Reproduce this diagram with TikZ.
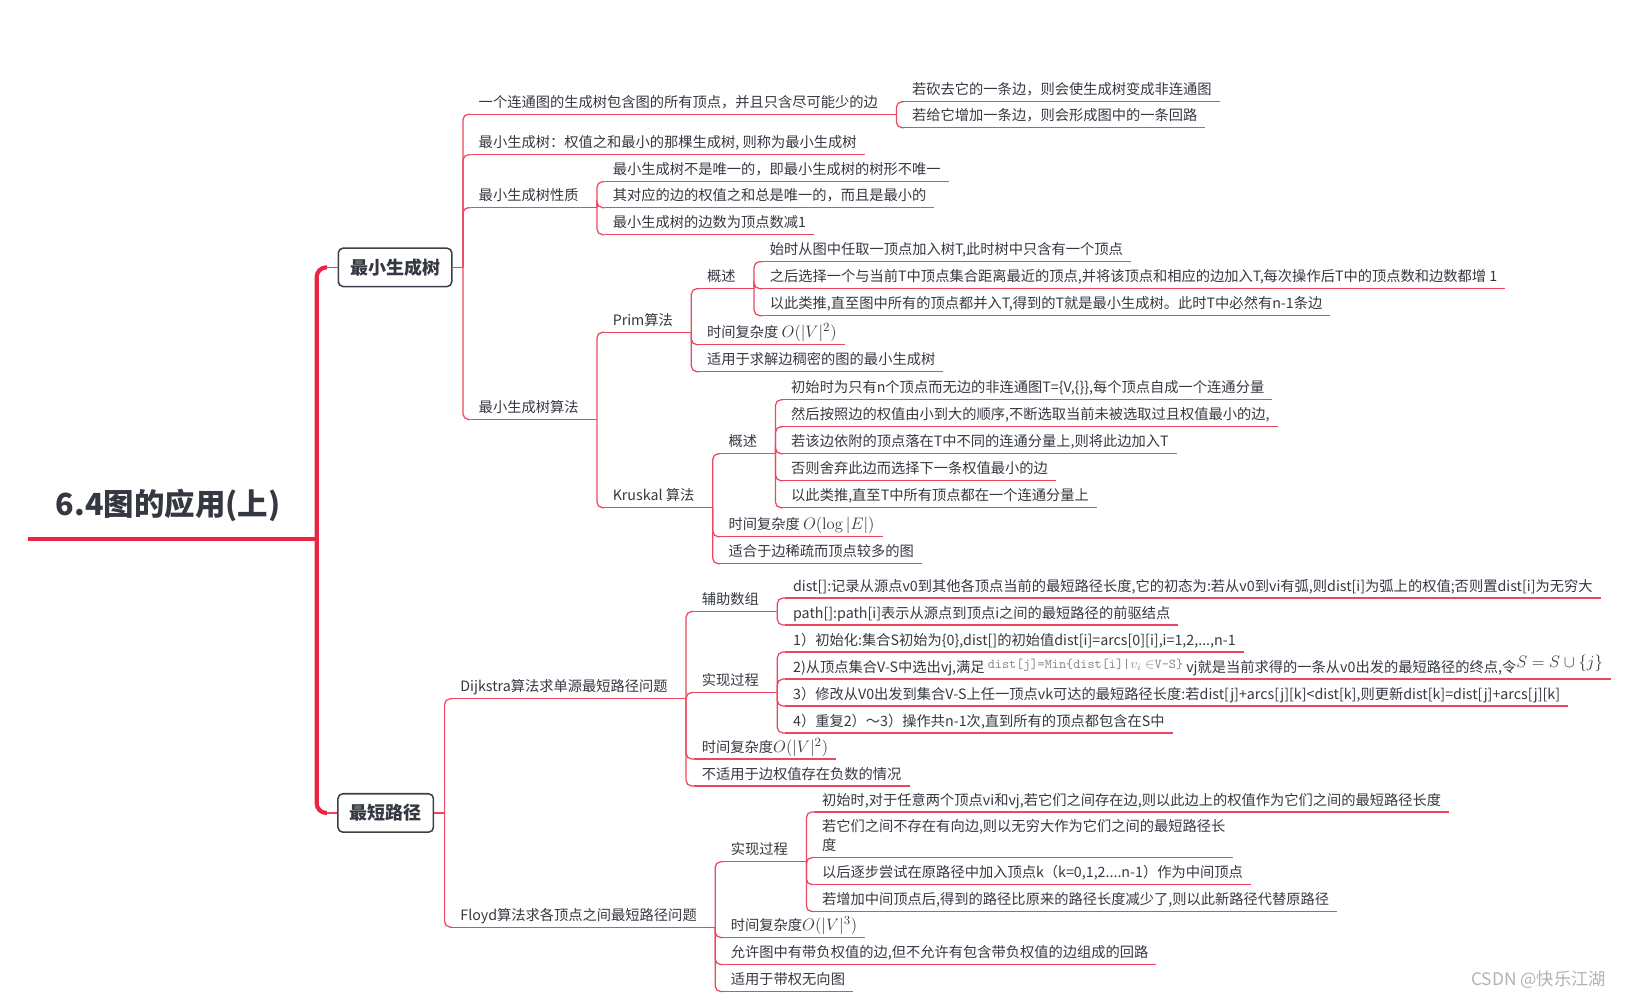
\documentclass[tikz,border=0pt]{standalone}
\usepackage[no-math]{fontspec}
\usepackage{amsmath}
\usepackage{amssymb}
\setmainfont{Noto Sans CJK SC}

\definecolor{txtc}{RGB}{52,56,64}
\definecolor{linec}{RGB}{236,70,96}
\definecolor{trunkc}{RGB}{232,38,66}
\definecolor{boxc}{RGB}{58,62,72}
\definecolor{markc}{RGB}{178,178,178}

\newcommand{\lblfont}{\fontsize{10.3}{12.4}\selectfont}
\newcommand{\topicfont}{\bfseries\fontsize{13}{15}\selectfont}
\newcommand{\rootfont}{\bfseries\fontsize{22}{26}\selectfont}
\newcommand{\wmfont}{\fontsize{12.5}{15}\selectfont}
\newcommand{\cplx}[1]{{\fontsize{12.5}{12.5}\selectfont$#1$}}

\tikzset{
  ln/.style={draw=linec, line width=0.9pt, rounded corners=4pt},
  trunk/.style={draw=trunkc, line width=3pt, rounded corners=7pt},
  ul/.style={draw=linec, line width=0.9pt},
  lbl/.style={anchor=south west, xshift=5.6pt, inner xsep=5.6pt, inner ysep=2.6pt,
    text height=7.6pt, text depth=2.2pt, text=txtc, font=\lblfont,
    append after command={(\tikzlastnode.south west) edge[ul] (\tikzlastnode.south east)}},
  topic/.style={draw=boxc, line width=1.1pt, rounded corners=3.5pt, fill=white,
    minimum height=27.75pt, inner xsep=8.5pt, text=txtc, font=\topicfont},
  rootnode/.style={anchor=south, minimum width=202.5pt, inner xsep=0pt, inner ysep=17pt,
    text depth=0pt, text=txtc, font=\rootfont},
  wmark/.style={text=markc, font=\wmfont, inner sep=0pt}
}

\begin{document}
\begin{tikzpicture}[x=0.75pt,y=0.75pt,yscale=-1,xscale=1]
\useasboundingbox (0,0) rectangle (1568,963);

% Root Node
\node[rootnode] (root) at (162,519) {6.4图的应用(上)};
\coordinate (hub) at (305,519);
\draw[trunk] (root.south west) -- (hub);

% Topic Nodes
\node[topic] (mst) at (380.5,257.5) {最小生成树};
\node[topic] (sp) at (371.5,783) {最短路径};
%Straight Lines
\draw[trunk] (hub) |- ([xshift=-7.5pt]mst.west);
\draw[trunk] (hub) |- ([xshift=-7.5pt]sp.west);
\draw[ln] ([xshift=-7.5pt]mst.west) -- (mst.west);
\draw[ln] ([xshift=-7.5pt]sp.west) -- (sp.west);

%%%%%%%%%% 最小生成树
\coordinate (mstb) at ([xshift=7.5pt]mst.east);
\draw[ln] (mst.east) -- (mstb);
% Text Node
\node[lbl] (def) at (mstb |- 0,110) {一个连通图的生成树包含图的所有顶点，并且只含尽可能少的边};
\node[lbl] (min) at (mstb |- 0,149) {最小生成树：权值之和最小的那棵生成树, 则称为最小生成树};
\node[lbl] (prop) at (mstb |- 0,200) {最小生成树性质};
\node[lbl] (alg) at (mstb |- 0,404) {最小生成树算法};
%Straight Lines
\draw[ln] (mstb) |- (def.south west);
\draw[ln] (mstb) |- (min.south west);
\draw[ln] (mstb) |- (prop.south west);
\draw[ln] (mstb) |- (alg.south west);

% definition
\coordinate (defb) at ([xshift=7.5pt]def.south east);
\draw[ln] (def.south east) -- (defb);
\node[lbl] (cut) at (defb |- 0,98) {若砍去它的一条边，则会使生成树变成非连通图};
\node[lbl] (add) at (defb |- 0,123) {若给它增加一条边，则会形成图中的一条回路};
\draw[ln] (defb) |- (cut.south west);
\draw[ln] (defb) |- (add.south west);

% properties
\coordinate (propb) at ([xshift=7.5pt]prop.south east);
\draw[ln] (prop.south east) -- (propb);
\node[lbl] (uniq) at (propb |- 0,175) {最小生成树不是唯一的，即最小生成树的树形不唯一};
\node[lbl] (wsum) at (propb |- 0,200) {其对应的边的权值之和总是唯一的，而且是最小的};
\node[lbl] (ecnt) at (propb |- 0,226) {最小生成树的边数为顶点数减1};
\draw[ln] (propb) |- (uniq.south west);
\draw[ln] (propb) |- (wsum.south west);
\draw[ln] (propb) |- (ecnt.south west);

% algorithms
\coordinate (algb) at ([xshift=7.5pt]alg.south east);
\draw[ln] (alg.south east) -- (algb);
\node[lbl] (prim) at (algb |- 0,320) {Prim算法};
\node[lbl] (krus) at (algb |- 0,489) {Kruskal 算法};
\draw[ln] (algb) |- (prim.south west);
\draw[ln] (algb) |- (krus.south west);

% Prim
\coordinate (primb) at ([xshift=7.5pt]prim.south east);
\draw[ln] (prim.south east) -- (primb);
\node[lbl] (pov) at (primb |- 0,278) {概述};
\node[lbl] (ptime) at (primb |- 0,332) {时间复杂度 \cplx{O(|V|^2)}};
\node[lbl] (puse) at (primb |- 0,358) {适用于求解边稠密的图的最小生成树};
\draw[ln] (primb) |- (pov.south west);
\draw[ln] (primb) |- (ptime.south west);
\draw[ln] (primb) |- (puse.south west);

\coordinate (povb) at ([xshift=7.5pt]pov.south east);
\draw[ln] (pov.south east) -- (povb);
\node[lbl] (p1) at (povb |- 0,252) {始时从图中任取一顶点加入树T,此时树中只含有一个顶点};
\node[lbl] (p2) at (povb |- 0,278) {之后选择一个与当前T中顶点集合距离最近的顶点,并将该顶点和相应的边加入T,每次操作后T中的顶点数和边数都增 1};
\node[lbl] (p3) at (povb |- 0,304) {以此类推,直至图中所有的顶点都并入T,得到的T就是最小生成树。此时T中必然有n-1条边};
\draw[ln] (povb) |- (p1.south west);
\draw[ln] (povb) |- (p2.south west);
\draw[ln] (povb) |- (p3.south west);

% Kruskal
\coordinate (krusb) at ([xshift=7.5pt]krus.south east);
\draw[ln] (krus.south east) -- (krusb);
\node[lbl] (kov) at (krusb |- 0,437) {概述};
\node[lbl] (ktime) at (krusb |- 0,517) {时间复杂度 \cplx{O(\log|E|)}};
\node[lbl] (kuse) at (krusb |- 0,543) {适合于边稀疏而顶点较多的图};
\draw[ln] (krusb) |- (kov.south west);
\draw[ln] (krusb) |- (ktime.south west);
\draw[ln] (krusb) |- (kuse.south west);

\coordinate (kovb) at ([xshift=7.5pt]kov.south east);
\draw[ln] (kov.south east) -- (kovb);
\node[lbl] (k1) at (kovb |- 0,385) {初始时为只有n个顶点而无边的非连通图T=\{V,\{\}\},每个顶点自成一个连通分量};
\node[lbl] (k2) at (kovb |- 0,411) {然后按照边的权值由小到大的顺序,不断选取当前未被选取过且权值最小的边,};
\node[lbl] (k3) at (kovb |- 0,437) {若该边依附的顶点落在T中不同的连通分量上,则将此边加入T};
\node[lbl] (k4) at (kovb |- 0,463) {否则舍弃此边而选择下一条权值最小的边};
\node[lbl] (k5) at (kovb |- 0,489) {以此类推,直至T中所有顶点都在一个连通分量上};
\draw[ln] (kovb) |- (k1.south west);
\draw[ln] (kovb) |- (k2.south west);
\draw[ln] (kovb) |- (k3.south west);
\draw[ln] (kovb) |- (k4.south west);
\draw[ln] (kovb) |- (k5.south west);

%%%%%%%%%% 最短路径
\coordinate (spb) at ([xshift=7.5pt]sp.east);
\draw[ln] (sp.east) -- (spb);
\node[lbl] (dij) at (spb |- 0,673) {Dijkstra算法求单源最短路径问题};
\node[lbl] (floyd) at (spb |- 0,893) {Floyd算法求各顶点之间最短路径问题};
\draw[ln] (spb) |- (dij.south west);
\draw[ln] (spb) |- (floyd.south west);

% Dijkstra
\coordinate (dijb) at ([xshift=7.5pt]dij.south east);
\draw[ln] (dij.south east) -- (dijb);
\node[lbl] (darr) at (dijb |- 0,589) {辅助数组};
\node[lbl] (dproc) at (dijb |- 0,667) {实现过程};
\node[lbl] (dtime) at (dijb |- 0,731) {时间复杂度\cplx{O(|V|^2)}};
\node[lbl] (dneg) at (dijb |- 0,757) {不适用于边权值存在负数的情况};
\draw[ln] (dijb) |- (darr.south west);
\draw[ln] (dijb) |- (dproc.south west);
\draw[ln] (dijb) |- (dtime.south west);
\draw[ln] (dijb) |- (dneg.south west);

\coordinate (darrb) at ([xshift=7.5pt]darr.south east);
\draw[ln] (darr.south east) -- (darrb);
\node[lbl] (dist) at (darrb |- 0,576) {dist[]:记录从源点v0到其他各顶点当前的最短路径长度,它的初态为:若从v0到vi有弧,则dist[i]为弧上的权值;否则置dist[i]为无穷大};
\node[lbl] (path) at (darrb |- 0,602) {path[]:path[i]表示从源点到顶点i之间的最短路径的前驱结点};
\draw[ln] (darrb) |- (dist.south west);
\draw[ln] (darrb) |- (path.south west);

\coordinate (dprocb) at ([xshift=7.5pt]dproc.south east);
\draw[ln] (dproc.south east) -- (dprocb);
\node[lbl] (d1) at (dprocb |- 0,628) {1）初始化:集合S初始为\{0\},dist[]的初始值dist[i]=arcs[0][i],i=1,2,...,n-1};
\node[lbl] (d2) at (dprocb |- 0,654) {2)从顶点集合V-S中选出vj,满足 \raisebox{2.5pt}{\color{markc!75!black}\fontsize{9.8}{10}\ttfamily dist[j]=Min\{dist[i]|$v_{i}\in$V-S\}} vj就是当前求得的一条从v0出发的最短路径的终点,令\raisebox{3pt}{\cplx{S=S\cup\{j\}}}};
\node[lbl] (d3) at (dprocb |- 0,680) {3）修改从V0出发到集合V-S上任一顶点vk可达的最短路径长度:若dist[j]+arcs[j][k]<dist[k],则更新dist[k]=dist[j]+arcs[j][k]};
\node[lbl] (d4) at (dprocb |- 0,706) {4）重复2）～3）操作共n-1次,直到所有的顶点都包含在S中};
\draw[ln] (dprocb) |- (d1.south west);
\draw[ln] (dprocb) |- (d2.south west);
\draw[ln] (dprocb) |- (d3.south west);
\draw[ln] (dprocb) |- (d4.south west);

% Floyd
\coordinate (floydb) at ([xshift=7.5pt]floyd.south east);
\draw[ln] (floyd.south east) -- (floydb);
\node[lbl] (fproc) at (floydb |- 0,830) {实现过程};
\node[lbl] (ftime) at (floydb |- 0,903) {时间复杂度\cplx{O(|V|^3)}};
\node[lbl] (fneg) at (floydb |- 0,929) {允许图中有带负权值的边,但不允许有包含带负权值的边组成的回路};
\node[lbl] (fuse) at (floydb |- 0,955) {适用于带权无向图};
\draw[ln] (floydb) |- (fproc.south west);
\draw[ln] (floydb) |- (ftime.south west);
\draw[ln] (floydb) |- (fneg.south west);
\draw[ln] (floydb) |- (fuse.south west);

\coordinate (fprocb) at ([xshift=7.5pt]fproc.south east);
\draw[ln] (fproc.south east) -- (fprocb);
\node[lbl] (f1) at (fprocb |- 0,782) {初始时,对于任意两个顶点vi和vj,若它们之间存在边,则以此边上的权值作为它们之间的最短路径长度};
\node[lbl] (f2) at (fprocb |- 0,826) {\begin{tabular}[b]{@{}l@{}}若它们之间不存在有向边,则以无穷大作为它们之间的最短路径长\\[1.5pt]度\end{tabular}};
\node[lbl] (f3) at (fprocb |- 0,852) {以后逐步尝试在原路径中加入顶点k（k=0,1,2....n-1）作为中间顶点};
\node[lbl] (f4) at (fprocb |- 0,878) {若增加中间顶点后,得到的路径比原来的路径长度减少了,则以此新路径代替原路径};
\draw[ln] (fprocb) |- (f1.south west);
\draw[ln] (fprocb) |- (f2.south west);
\draw[ln] (fprocb) |- (f3.south west);
\draw[ln] (fprocb) |- (f4.south west);

% Watermark
\node[wmark] (csdn) at (1482,944) {CSDN @快乐江湖};

\end{tikzpicture}
\end{document}
